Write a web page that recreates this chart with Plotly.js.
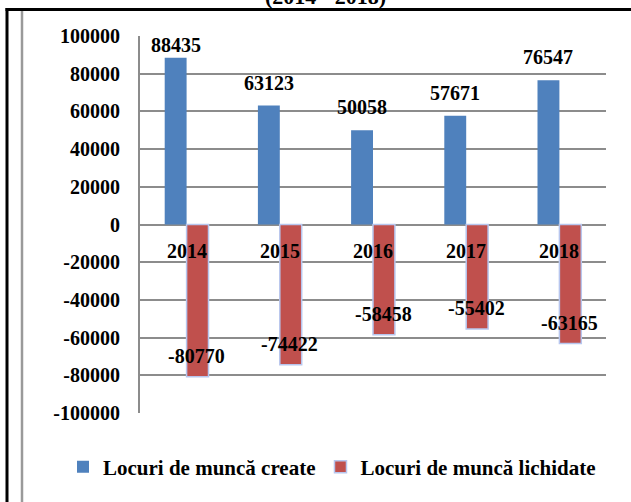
<!DOCTYPE html>
<html>
<head>
<meta charset="utf-8">
<script src="https://cdn.plot.ly/plotly-3.0.1.min.js"></script>
<style>html,body{margin:0;padding:0;background:#fff;}#chart{width:631px;height:502px;}</style>
</head>
<body>
<div id="chart"></div>
<script>
const years = ['2014', '2015', '2016', '2017', '2018'];
const created = [88435, 63123, 50058, 57671, 76547];
const liquidated = [-80770, -74422, -58458, -55402, -63165];
const tickValues = [100000, 80000, 60000, 40000, 20000, 0, -20000, -40000, -60000, -80000, -100000];
const tickLabels = ['100000', '80000', '60000', '40000', '20000', '0', '-20000', '-40000', '-60000', '-80000', '-100000'];
const seriesNames = ['Locuri de muncă create', 'Locuri de muncă lichidate'];
const titleText = '(2014 - 2018)';

const W = 631, H = 502, L = 140, R = 25, T = 36, B = 89;
const pw = W - L - R, ph = H - T - B;
const FONT = '"Liberation Serif", "Times New Roman", serif';
const yMin = -100000, yMax = 100000;
const unitPerPx = (yMax - yMin) / ph;
const px = x => (x - L) / pw;
const py = y => (H - B - y) / ph;
const labelFont = {family: FONT, size: 20, color: '#000', weight: 'bold'};

const annotations = [];
created.forEach((v, i) => {
  const yc = Math.min(v + 23 * unitPerPx, yMax - 9 * unitPerPx);
  annotations.push({x: i, y: yc, xref: 'x', yref: 'y', text: String(v), showarrow: false,
    xshift: -11, yanchor: 'middle', font: labelFont});
});
liquidated.forEach((v, i) => {
  annotations.push({x: i, y: v, xref: 'x', yref: 'y', text: String(v), showarrow: false,
    xshift: 10, yshift: 21, yanchor: 'middle', font: labelFont});
});
years.forEach((yr, i) => {
  annotations.push({x: i, y: 0, xref: 'x', yref: 'y', text: yr, showarrow: false,
    yshift: -26, yanchor: 'middle', font: labelFont});
});
annotations.push({x: px(325), y: py(11), xref: 'paper', yref: 'paper', text: titleText, showarrow: false,
  xanchor: 'center', yanchor: 'bottom', font: {family: FONT, size: 22, color: '#000', weight: 'bold'}});

const data = [
  {type: 'bar', x: years, y: created, name: seriesNames[0],
   marker: {color: '#4f81bd', line: {width: 0}}},
  {type: 'bar', x: years, y: liquidated, name: seriesNames[1],
   marker: {color: '#c0504d', line: {color: '#b7c6ee', width: 1.5}}}
];

const layout = {
  width: W, height: H,
  margin: {l: L, r: R, t: T, b: B, pad: 0},
  paper_bgcolor: '#fff', plot_bgcolor: '#fff',
  barmode: 'group', bargap: 0.53, bargroupgap: 0,
  showlegend: true,
  legend: {orientation: 'h', xref: 'paper', x: px(63), xanchor: 'left', yref: 'paper', y: py(467), yanchor: 'middle',
    font: {family: FONT, size: 21, color: '#000', weight: 'bold'}, itemwidth: 30, tracegroupgap: 0, bgcolor: 'rgba(0,0,0,0)'},
  xaxis: {type: 'category', range: [-0.5, 4.5], autorange: false, showticklabels: false, ticks: '', showgrid: false, zeroline: false, showline: false, fixedrange: true},
  yaxis: {range: [yMin, yMax], autorange: false, tickmode: 'array', tickvals: tickValues, ticktext: tickLabels,
    showgrid: true, gridcolor: '#8c8c8c', gridwidth: 2, zeroline: true, zerolinecolor: '#8c8c8c', zerolinewidth: 2,
    showline: true, linecolor: '#8c8c8c', linewidth: 2, ticks: '', ticklabelstandoff: 14,
    tickfont: labelFont, fixedrange: true},
  annotations: annotations,
  shapes: [
    {type: 'line', xref: 'paper', yref: 'paper', x0: px(7), x1: px(7), y0: py(8), y1: py(510), line: {color: '#000', width: 3}},
    {type: 'line', xref: 'paper', yref: 'paper', x0: px(5.5), x1: px(640), y0: py(9.5), y1: py(9.5), line: {color: '#000', width: 3}},
    {type: 'line', xref: 'paper', yref: 'paper', x0: px(22), x1: px(22), y0: py(11), y1: py(510), line: {color: '#9a9a9a', width: 2.5}}
  ]
};

Plotly.newPlot('chart', data, layout, {displayModeBar: false, staticPlot: true});
</script>
</body>
</html>
